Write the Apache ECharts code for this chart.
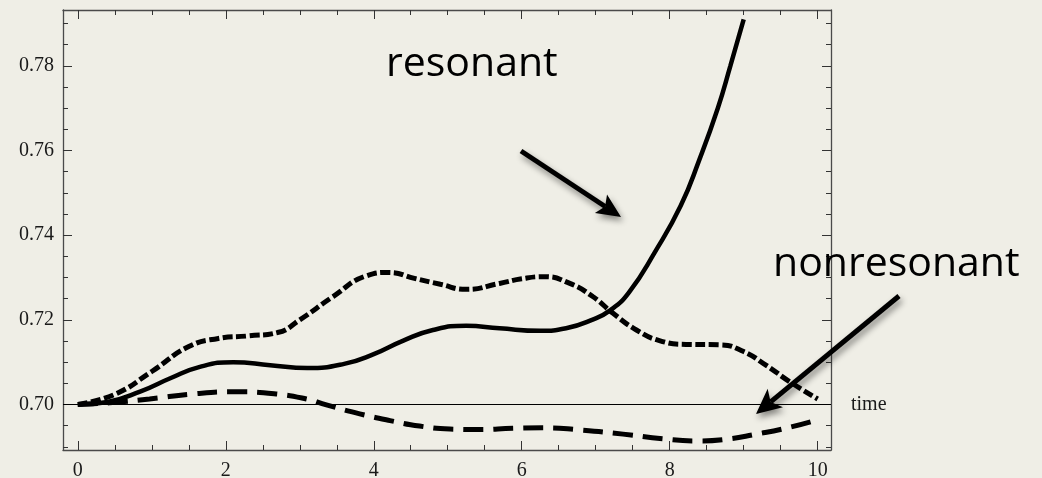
<!DOCTYPE html>
<html>
<head>
<meta charset="utf-8">
<script src="https://cdn.jsdelivr.net/npm/echarts@6/dist/echarts.min.js"></script>
<style>
html,body{margin:0;padding:0;background:#efeee6;}
#c{width:1042px;height:478px;}
</style>
</head>
<body>
<div id="c"></div>
<script>
// ---- data ----
const xMajorTicks = [0, 2, 4, 6, 8, 10];
const xMinorTicks = [0.5, 1, 1.5, 2.5, 3, 3.5, 4.5, 5, 5.5, 6.5, 7, 7.5, 8.5, 9, 9.5];
const yMajorTicks = [0.70, 0.72, 0.74, 0.76, 0.78];
const yMinorTicks = [0.69, 0.695, 0.705, 0.71, 0.715, 0.725, 0.73, 0.735, 0.745, 0.75, 0.755, 0.765, 0.77, 0.775, 0.785, 0.79];

// resonant (solid)
const solidT = [0, 0.4, 0.85, 1.25, 1.65, 2.1, 2.6, 3.1, 3.6, 4.0, 4.4, 4.8, 5.25, 5.7, 6.25, 6.6, 6.95, 7.2, 7.45, 7.8, 8.15, 8.4, 8.65, 8.82, 9.0];
const solidV = [0.7000, 0.7006, 0.7031, 0.7062, 0.7089, 0.7100, 0.7093, 0.7086, 0.7096, 0.7119, 0.7151, 0.7176, 0.7186, 0.7180, 0.7174, 0.7180, 0.7200, 0.7223, 0.7265, 0.7360, 0.7470, 0.7578, 0.7700, 0.7800, 0.7910];

// short-dashed curve
const upperT = [0, 0.5, 1, 1.5, 1.9, 2.3, 2.7, 3.0, 3.45, 3.9, 4.2, 4.55, 4.9, 5.25, 5.7, 6.0, 6.3, 6.65, 6.96, 7.23, 7.55, 7.86, 8.22, 8.68, 9.0, 9.3, 9.62, 10.0];
const upperV = [0.7000, 0.7024, 0.7078, 0.7137, 0.7156, 0.7162, 0.7170, 0.7200, 0.7255, 0.7304, 0.7312, 0.7298, 0.7284, 0.7272, 0.7286, 0.7297, 0.7302, 0.7286, 0.7255, 0.7216, 0.7176, 0.7151, 0.7142, 0.7141, 0.7125, 0.7093, 0.7054, 0.7013];

// nonresonant (long-dashed)
const lowerT = [0, 0.43, 0.97, 1.56, 2.14, 2.68, 3.09, 3.36, 3.81, 4.22, 4.62, 5.03, 5.43, 5.88, 6.28, 6.78, 7.37, 7.91, 8.36, 8.77, 9.17, 9.57, 9.98];
const lowerV = [0.7000, 0.7004, 0.7013, 0.7025, 0.7030, 0.7025, 0.7013, 0.6999, 0.6978, 0.6962, 0.6949, 0.6942, 0.6941, 0.6944, 0.6945, 0.6940, 0.6930, 0.6919, 0.6914, 0.6918, 0.6930, 0.6944, 0.6963];

const baseline = 0.70;
const axisLabelText = 'time';
const annoResonant = 'resonant';
const annoNonresonant = 'nonresonant';

const zip = (a, b) => a.map((t, i) => [t, b[i]]);

const chart = echarts.init(document.getElementById('c'));

const serifFont = '"Liberation Serif", "Times New Roman", serif';
const frameColor = '#4a4a4a';

function xAxisDef(pos, ticks, len, showLine, labels) {
  return {
    type: 'value', position: pos, min: -0.2, max: 10.18, gridIndex: 0,
    axisLine: { show: showLine, onZero: false, lineStyle: { color: frameColor, width: 1.3 } },
    axisTick: { show: true, inside: true, length: len, customValues: ticks, lineStyle: { color: '#333', width: 1 } },
    axisLabel: labels ? { show: true, customValues: ticks, fontFamily: serifFont, fontSize: 20, color: '#1a1a1a', margin: 11 } : { show: false },
    splitLine: { show: false }, minorTick: { show: false }
  };
}
function yAxisDef(pos, ticks, len, showLine, labels) {
  return {
    type: 'value', position: pos, min: 0.68925, max: 0.7932, gridIndex: 0,
    axisLine: { show: showLine, onZero: false, lineStyle: { color: frameColor, width: 1.3 } },
    axisTick: { show: true, inside: true, length: len, customValues: ticks, lineStyle: { color: '#333', width: 1 } },
    axisLabel: labels ? { show: true, customValues: ticks, fontFamily: serifFont, fontSize: 20, color: '#1a1a1a', margin: 9, formatter: v => Number(v).toFixed(2) } : { show: false },
    splitLine: { show: false }, minorTick: { show: false }
  };
}

function arrow(x1, y1, x2, y2, headLen, halfW, notch, width) {
  const dx = x2 - x1, dy = y2 - y1, L = Math.hypot(dx, dy);
  const ux = dx / L, uy = dy / L, px = -uy, py = ux;
  const bx = x2 - ux * headLen, by = y2 - uy * headLen;
  const nx = x2 - ux * (headLen - notch), ny = y2 - uy * (headLen - notch);
  const shadow = { shadowBlur: 6, shadowColor: 'rgba(0,0,0,0.45)', shadowOffsetX: 2, shadowOffsetY: 4 };
  return [
    { type: 'line', z: 100, shape: { x1: x1, y1: y1, x2: nx, y2: ny }, style: Object.assign({ stroke: '#000', lineWidth: width, lineCap: 'butt' }, shadow) },
    { type: 'polygon', z: 100, shape: { points: [[x2, y2], [bx + px * halfW, by + py * halfW], [nx, ny], [bx - px * halfW, by - py * halfW]] }, style: Object.assign({ fill: '#000' }, shadow) }
  ];
}

const option = {
  backgroundColor: '#efeee6',
  animation: false,
  grid: { left: 63, right: 211, top: 10, bottom: 28, show: false, containLabel: false, outerBoundsMode: 'none' },
  xAxis: [
    xAxisDef('bottom', xMajorTicks, 9, true, true),
    xAxisDef('bottom', xMinorTicks, 5, false, false),
    xAxisDef('top', xMajorTicks, 9, true, false),
    xAxisDef('top', xMinorTicks, 5, false, false)
  ],
  yAxis: [
    yAxisDef('left', yMajorTicks, 9, true, true),
    yAxisDef('left', yMinorTicks, 5, false, false),
    yAxisDef('right', yMajorTicks, 9, true, false),
    yAxisDef('right', yMinorTicks, 5, false, false)
  ],
  series: [
    {
      type: 'line', name: 'baseline', data: [], xAxisIndex: 0, yAxisIndex: 0,
      markLine: {
        silent: true, symbol: ['none', 'none'], animation: false,
        lineStyle: { color: '#000', width: 1, type: 'solid' },
        label: { show: true, position: 'end', formatter: axisLabelText, fontFamily: serifFont, fontSize: 20, color: '#1a1a1a', distance: 20 },
        data: [{ yAxis: baseline }]
      }
    },
    {
      type: 'line', name: 'lower', data: zip(lowerT, lowerV), smooth: 0.5, symbol: 'none', xAxisIndex: 0, yAxisIndex: 0,
      lineStyle: { color: '#000', width: 5, type: [20, 10], cap: 'butt' }, z: 3
    },
    {
      type: 'line', name: 'upper', data: zip(upperT, upperV), smooth: 0.5, symbol: 'none', xAxisIndex: 0, yAxisIndex: 0,
      lineStyle: { color: '#000', width: 5, type: [10, 3.5], cap: 'butt' }, z: 3
    },
    {
      type: 'line', name: 'resonant', data: zip(solidT, solidV), smooth: 0.5, symbol: 'none', xAxisIndex: 0, yAxisIndex: 0,
      lineStyle: { color: '#000', width: 4.5, type: 'solid', cap: 'butt' }, z: 4
    }
  ],
  graphic: [
    { type: 'text', z: 100, x: 386, y: 64, style: { text: annoResonant, font: '41px "Open Sans"', fill: '#000', textAlign: 'left', textVerticalAlign: 'middle' } },
    { type: 'text', z: 100, x: 773, y: 264, style: { text: annoNonresonant, font: '41px "Open Sans"', fill: '#000', textAlign: 'left', textVerticalAlign: 'middle' } }
  ].concat(arrow(521, 151, 621, 217, 24, 11, 5, 5)).concat(arrow(899, 296, 756, 414, 25, 12, 6, 5))
};

chart.setOption(option);
</script>
</body>
</html>
